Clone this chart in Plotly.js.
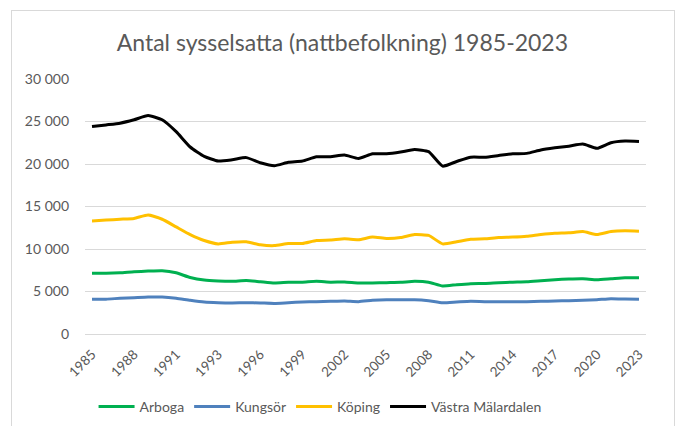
<!DOCTYPE html>
<html>
<head>
<meta charset="utf-8">
<script src="https://cdn.plot.ly/plotly-3.0.1.min.js"></script>
<style>
  html, body { margin: 0; padding: 0; background: #ffffff; }
  #wrap { position: relative; width: 678px; height: 426px; overflow: hidden; }
  #chart { position: absolute; left: 0; top: 0; width: 678px; height: 426px; }
  #frame { position: absolute; left: 11px; top: 10px; width: 662px; height: 430px; border: 1px solid #d9d9d9; pointer-events: none; }
</style>
</head>
<body>
<div id="wrap">
  <div id="chart"></div>
  <div id="frame"></div>
</div>
<script>
// Categories (1993 appears twice in the source series)
const categories = ['1985','1986','1987','1988','1989','1990','1991','1992','1993','1993',
  '1994','1995','1996','1997','1998','1999','2000','2001','2002','2003',
  '2004','2005','2006','2007','2008','2009','2010','2011','2012','2013',
  '2014','2015','2016','2017','2018','2019','2020','2021','2022','2023'];

const arboga = [7140,7140,7200,7330,7400,7450,7200,6650,6350,6240,
  6200,6300,6150,6000,6080,6100,6200,6100,6120,6000,
  6000,6040,6080,6200,6100,5650,5800,5920,5950,6040,
  6100,6150,6270,6390,6470,6500,6390,6500,6620,6620];

const kungsor = [4080,4100,4200,4270,4350,4350,4200,3960,3760,3680,
  3650,3680,3650,3600,3680,3760,3800,3840,3880,3800,
  3960,4040,4040,4040,3920,3680,3760,3840,3800,3800,
  3800,3800,3840,3880,3920,3960,4040,4160,4120,4080];

const koping = [13300,13400,13500,13600,14000,13500,12600,11700,11000,10600,
  10800,10850,10500,10400,10650,10650,11000,11050,11200,11100,
  11400,11250,11350,11700,11600,10600,10850,11150,11200,11350,
  11400,11500,11700,11850,11900,12050,11700,12050,12150,12100];

const vastraMalardalen = [24400,24600,24800,25200,25700,25200,23800,22000,20900,20350,
  20500,20750,20150,19800,20200,20350,20850,20850,21050,20650,
  21200,21200,21400,21700,21450,19750,20300,20800,20800,21000,
  21200,21250,21650,21900,22100,22350,21850,22500,22700,22650];

const seriesNames = ['Arboga','Kungsör','Köping','Västra Mälardalen'];
const seriesData = [arboga, kungsor, koping, vastraMalardalen];
const seriesColors = ['#00B050','#4F81BD','#FFC000','#000000'];

const yTicks = [0,5000,10000,15000,20000,25000,30000];
const xIdx = categories.map((_, i) => i);
const xTickVals = xIdx.filter(i => i % 3 === 0);
const xTickText = xTickVals.map(i => categories[i]);

const traces = seriesData.map((vals, k) => ({
  type: 'scatter',
  mode: 'lines',
  name: seriesNames[k],
  x: xIdx,
  y: vals,
  line: { color: seriesColors[k], width: 3, shape: 'spline', smoothing: 0.5 },
  hoverinfo: 'skip'
}));

const layout = {
  width: 678,
  height: 426,
  margin: { l: 85, r: 32, t: 79, b: 92, autoexpand: false },
  paper_bgcolor: '#ffffff',
  plot_bgcolor: '#ffffff',
  separators: ', ',
  font: { family: 'Lato, "Open Sans", sans-serif', color: '#595959' },
  title: {
    text: 'Antal sysselsatta (nattbefolkning) 1985-2023',
    font: { size: 23, color: '#595959', family: 'Lato, "Open Sans", sans-serif' },
    x: 0.505, xanchor: 'center',
    y: 1 - 43 / 426, yanchor: 'middle'
  },
  xaxis: {
    range: [-0.5, categories.length - 0.5],
    tickmode: 'array',
    tickvals: xTickVals,
    ticktext: xTickText,
    tickangle: -45,
    showgrid: false,
    zeroline: false,
    showline: false,
    ticks: '',
    ticklabelstandoff: 9,
    tickfont: { size: 13.5, color: '#595959' },
    automargin: false,
    fixedrange: true
  },
  yaxis: {
    range: [0, 30000],
    tickmode: 'array',
    tickvals: yTicks,
    tickformat: ',d',
    showgrid: true,
    gridcolor: '#d9d9d9',
    gridwidth: 1,
    zeroline: true,
    zerolinecolor: '#d9d9d9',
    zerolinewidth: 1,
    showline: false,
    ticks: '',
    ticklabelstandoff: 15,
    tickfont: { size: 14, color: '#595959' },
    automargin: false,
    fixedrange: true
  },
  showlegend: true,
  legend: {
    orientation: 'h',
    x: 0.419, xanchor: 'center',
    y: (334 - 407) / 255, yanchor: 'middle',
    font: { size: 14, color: '#595959' },
    bgcolor: 'rgba(0,0,0,0)',
    itemwidth: 36
  }
};

Plotly.newPlot('chart', traces, layout, { displayModeBar: false, staticPlot: true });
</script>
</body>
</html>
